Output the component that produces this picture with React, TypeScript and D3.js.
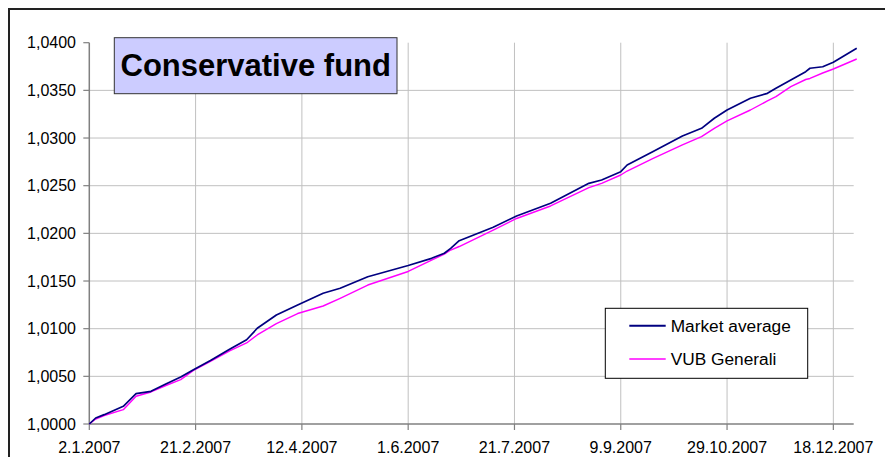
import React from "react";
import * as d3 from "d3";

const dates = [
  "2007-01-02","2007-01-05","2007-01-09","2007-01-18","2007-01-24","2007-01-31",
  "2007-02-07","2007-02-14","2007-02-20","2007-02-28","2007-03-09","2007-03-17",
  "2007-03-22","2007-03-31","2007-04-10","2007-04-22","2007-04-30","2007-05-13",
  "2007-06-01","2007-06-12","2007-06-18","2007-06-21","2007-06-25","2007-07-11",
  "2007-07-22","2007-08-07","2007-08-25","2007-08-31","2007-09-09","2007-09-12",
  "2007-09-24","2007-10-08","2007-10-17","2007-10-23","2007-10-29","2007-11-09",
  "2007-11-17","2007-11-21","2007-11-28","2007-12-05","2007-12-07","2007-12-13",
  "2007-12-18","2007-12-29"
];

const marketAverage = [
  1.0, 1.00063, 1.00098, 1.00186, 1.00318, 1.00343,
  1.0042, 1.00493, 1.0057, 1.00666, 1.00784, 1.00884,
  1.01004, 1.01143, 1.01248, 1.01371, 1.01424, 1.01545,
  1.01663, 1.01738, 1.01791, 1.01843, 1.01923, 1.02064,
  1.02182, 1.02315, 1.02525, 1.0256, 1.02647, 1.02717,
  1.02857, 1.03021, 1.03102, 1.03207, 1.03294, 1.03417,
  1.03469, 1.03522, 1.03609, 1.03696, 1.03732, 1.03748,
  1.03795, 1.03941
];

const vubGenerali = [
  1.0, 1.00052, 1.00089, 1.0015, 1.00291, 1.00336,
  1.00404, 1.00465, 1.00563, 1.00658, 1.00766, 1.0085,
  1.00934, 1.01054, 1.01159, 1.01238, 1.01319, 1.01458,
  1.016, 1.0172, 1.01783, 1.01825, 1.01862, 1.02035,
  1.02156, 1.02287, 1.02479, 1.02525, 1.02612, 1.02654,
  1.02785, 1.02927, 1.03014, 1.03102, 1.03179, 1.03294,
  1.03389, 1.03434, 1.03539, 1.03614, 1.03625, 1.03682,
  1.03724, 1.03829
];

const xTickLabels = [
  "2.1.2007", "21.2.2007", "12.4.2007", "1.6.2007",
  "21.7.2007", "9.9.2007", "29.10.2007", "18.12.2007"
];

const yTicks = [1.0, 1.005, 1.01, 1.015, 1.02, 1.025, 1.03, 1.035, 1.04];

const seriesNames = ["Market average", "VUB Generali"];
const seriesColors = ["#000080", "#FF00FF"];
const title = "Conservative fund";

const W = 885;
const H = 457;
const plotLeft = 89.3;
const plotRight = 854.6;
const plotTop = 42.7;
const plotBottom = 424;
const FONT = "'Liberation Sans', Arial, sans-serif";

export default function App() {
  const parseISO = d3.utcParse("%Y-%m-%d");
  const parseTick = d3.utcParse("%d.%m.%Y");
  const x = d3
    .scaleUtc()
    .domain([parseISO("2007-01-02") as Date, parseISO("2007-12-28") as Date])
    .range([plotLeft, plotRight]);
  const y = d3.scaleLinear().domain([1.0, 1.04]).range([plotBottom, plotTop]);

  const parsedDates = dates.map((d) => parseISO(d) as Date);
  const series = [marketAverage, vubGenerali];
  const lineGen = d3
    .line<[Date, number]>()
    .x((d) => x(d[0]))
    .y((d) => y(d[1]));

  const fmtY = (v: number) => d3.format(".4f")(v).replace(".", ",");
  const xTicks = xTickLabels.map((l) => ({ label: l, date: parseTick(l) as Date }));

  const gridRight = 853.7;

  return (
    <svg
      width={W}
      height={H}
      style={{ position: "absolute", left: 0, top: 0, background: "#fff" }}
      fontFamily={FONT}
    >
      <rect x={0} y={0} width={W} height={H} fill="#fff" />
      {/* outer frame */}
      <rect x={9} y={9} width={W + 20} height={H + 20} fill="none" stroke="#222" strokeWidth={2} />

      {/* horizontal grid */}
      {yTicks.slice(1, -1).map((t) => (
        <line key={"hg" + t} x1={plotLeft} x2={gridRight} y1={y(t)} y2={y(t)} stroke="#C0C0C0" strokeWidth={1} />
      ))}
      {/* vertical grid */}
      {xTicks.slice(1).map((t) => (
        <line key={"vg" + t.label} x1={x(t.date)} x2={x(t.date)} y1={plotTop} y2={plotBottom} stroke="#C0C0C0" strokeWidth={1} />
      ))}

      {/* axes */}
      <line x1={plotLeft} x2={plotLeft} y1={plotTop} y2={plotBottom} stroke="#808080" strokeWidth={1.5} />
      <line x1={plotLeft} x2={gridRight} y1={plotBottom} y2={plotBottom} stroke="#808080" strokeWidth={1.5} />
      {yTicks.map((t) => (
        <g key={"yt" + t}>
          <line x1={plotLeft - 6} x2={plotLeft} y1={y(t)} y2={y(t)} stroke="#808080" strokeWidth={1.2} />
          <text x={76} y={y(t)} dy="0.35em" textAnchor="end" fontSize={16} fill="#000">
            {fmtY(t)}
          </text>
        </g>
      ))}
      {xTicks.map((t) => (
        <g key={"xt" + t.label}>
          <line x1={x(t.date)} x2={x(t.date)} y1={plotBottom} y2={plotBottom + 6} stroke="#808080" strokeWidth={1.2} />
          <text x={x(t.date)} y={453} textAnchor="middle" fontSize={16} fill="#000">
            {t.label}
          </text>
        </g>
      ))}

      {/* lines */}
      {[1, 0].map((i) => (
        <path
          key={"s" + i}
          d={lineGen(parsedDates.map((d, j) => [d, series[i][j]] as [Date, number])) || ""}
          fill="none"
          stroke={seriesColors[i]}
          strokeWidth={i === 0 ? 1.7 : 1.4}
          strokeLinejoin="round"
        />
      ))}

      {/* title box */}
      <rect x={114.3} y={37.7} width={282.7} height={56} fill="#CCCCFF" stroke="#333" strokeWidth={1} />
      <text x={120.5} y={75.5} fontSize={31} fontWeight="bold" fill="#000">
        {title}
      </text>

      {/* legend */}
      <rect x={605.3} y={308.3} width={202.4} height={70} fill="#fff" stroke="#000" strokeWidth={1} />
      {seriesNames.map((n, i) => (
        <g key={"lg" + n}>
          <line
            x1={629.3}
            x2={665.7}
            y1={325.7 + i * 33.3}
            y2={325.7 + i * 33.3}
            stroke={seriesColors[i]}
            strokeWidth={i === 0 ? 2 : 1.5}
          />
          <text x={670.7} y={325.7 + i * 33.3} dy="0.35em" fontSize={17.3} fill="#000">
            {n}
          </text>
        </g>
      ))}
    </svg>
  );
}
